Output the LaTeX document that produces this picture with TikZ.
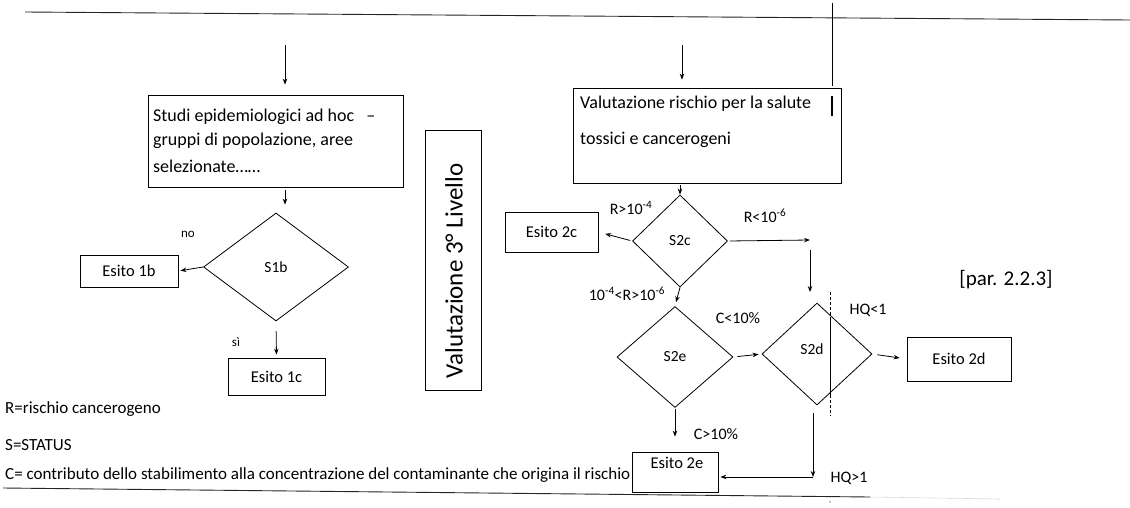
\documentclass[tikz,border=0pt]{standalone}
\usepackage{fontspec}
\setmainfont{Carlito}
\usetikzlibrary{shapes.geometric,arrows.meta}
\begin{document}
\begin{tikzpicture}[x=1pt,y=-1pt,
  box/.style={draw, line width=0.8pt, inner sep=0pt},
  esito/.style={box, font=\fontsize{16.5}{18}\selectfont},
  dec/.style={draw, diamond, line width=0.8pt, inner sep=0pt, font=\fontsize{15.5}{17}\selectfont},
  arr/.style={-{Stealth[length=6pt,width=4.5pt]}, line width=0.8pt},
  lbl/.style={font=\fontsize{16}{18}\selectfont, inner sep=0pt},
  small/.style={font=\fontsize{13}{15}\selectfont, inner sep=0pt},
  txt/.style={font=\fontsize{18}{20}\selectfont, inner sep=0pt, anchor=west},
  leg/.style={font=\fontsize{17}{19}\selectfont, inner sep=0pt, anchor=west},
  rule/.style={line width=0.9pt, black!85}
]
\useasboundingbox (0,0) rectangle (1130,507);

% frame rules
\coordinate (tl) at (25,12);
\coordinate (tr) at (1130,20);
\coordinate (bl) at (3,488);
\coordinate (bm) at (870,497);
\coordinate (br) at (1000,499);
\draw[rule] (tl) -- (tr);
\draw[rule] (bl) -- (bm);
\draw[line width=0.6pt, black!35, densely dotted] (bm) -- (br);

% left column
\coordinate (inL) at (285,45);
\node[box, minimum width=255, minimum height=92] (studi) at (275.5,141) {};
\node[txt] (studit) at (153,117) {Studi epidemiologici ad hoc \ \ –};
\node[txt] (studit2) at (153,141) {gruppi di popolazione, aree};
\node[txt] (studit3) at (153,166) {selezionate……};
\node[dec, minimum width=145, minimum height=108] (s1b) at (276,267) {S1b};
\node[esito, minimum width=98, minimum height=32] (e1b) at (129,271) {Esito 1b};
\node[esito, minimum width=97, minimum height=37] (e1c) at (276.5,376.5) {Esito 1c};

\draw[arr, shorten >=10pt] (inL) -- (inL |- studi.north);
\draw[arr, shorten <=3pt, shorten >=8pt] (studi.south -| inL) -- (inL |- s1b.north);
\draw[arr, shorten >=2pt] (s1b.west) -- (e1b.east);
\draw[arr, shorten <=10pt, shorten >=3pt] (s1b.south) -- (e1c.north);
\node[small] (no) at (188,234) {no};
\node[small] (si) at (236,342) {sì};

% vertical title
\node[box, minimum width=56, minimum height=260] (v3) at (453,260) {};
\node[font=\fontsize{25}{27}\selectfont, rotate=90, inner sep=0pt] (v3t) at (454,271) {Valutazione 3° Livello};

% legend
\node[leg] (legR) at (5,409) {R=rischio cancerogeno};
\node[leg] (legS) at (5,445) {S=STATUS};
\node[leg] (legC) at (5,475) {C= contributo dello stabilimento alla concentrazione del contaminante che origina il rischio};

% right column
\coordinate (inR) at (682,45);
\node[box, minimum width=268, minimum height=95] (valr) at (707,135.5) {};
\node[txt] (valrt) at (580,104) {Valutazione rischio per la salute};
\node[txt] (valrt2) at (580,140) {tossici e cancerogeni};
\coordinate (vtop) at (832,3);
\coordinate (vbot) at (832,86);
\draw[line width=0.7pt] (vtop) -- (vbot);
\coordinate (sg1) at (832,96);
\coordinate (sg2) at (832,116);
\draw[line width=1.6pt] (sg1) -- (sg2);

\node[dec, minimum width=95, minimum height=92] (s2c) at (680,241) {S2c};
\node[esito, minimum width=93, minimum height=40] (e2c) at (551.5,232) {Esito 2c};
\node[dec, minimum width=116, minimum height=101] (s2e) at (675,357) {S2e};
\node[dec, minimum width=110, minimum height=102] (s2d) at (817,354) {};
\node[font=\fontsize{15.5}{17}\selectfont, inner sep=0pt] (s2dt) at (812,349) {S2d};
\node[esito, minimum width=104, minimum height=44] (e2d) at (959,359) {Esito 2d};
\node[box, minimum width=86, minimum height=40] (e2e) at (675,472) {};
\node[font=\fontsize{16.5}{18}\selectfont, inner sep=0pt] (e2et) at (677,463) {Esito 2e};

\draw[arr, shorten >=8pt] (inR) -- (inR |- valr.north);
\draw[arr, shorten <=2pt] (valr.south -| s2c.north) -- (s2c.north);
\draw[arr, shorten <=2pt, shorten >=7pt] (s2c.west) -- (e2c.east);
\coordinate (r1) at (810,240);
\coordinate (r2) at (810,250);
\coordinate (r3) at (810,292);
\draw[arr, shorten <=2pt] (s2c.east) -- (r1);
\draw[arr] (r2) -- (r3);
\draw[arr, shorten >=4pt] (s2c.south) -- (s2e.north);
\draw[arr, shorten <=4pt, shorten >=3pt] (s2e.east) -- (s2d.west);
\draw[arr, shorten <=5pt, shorten >=7pt] (s2d.east) -- (e2d.west);
\draw[arr, shorten <=1pt, shorten >=15pt] (s2e.south) -- (e2e.north);
\coordinate (c1) at (813,413);
\coordinate (c2) at (813,477);
\draw[arr] (c1) -- (c2);
\draw[arr, shorten >=2pt] (c2) -- (c2 -| e2e.east);

% dashed guide through S2d
\coordinate (d1) at (830,292);
\coordinate (d2) at (830,318);
\coordinate (d3) at (830,395);
\coordinate (d4) at (830,416);
\draw[line width=0.6pt, densely dashed] (d1) -- (d2);
\draw[line width=0.7pt] (d2) -- (d3);
\draw[line width=0.6pt, densely dashed] (d3) -- (d4);
\fill (830,502) circle (0.6pt);

% labels
\node[lbl] (lR4) at (631,208) {R>10\textsuperscript{-4}};
\node[lbl] (lR6) at (765,216) {R<10\textsuperscript{-6}};
\node[lbl] (lmid) at (627,294) {10\textsuperscript{-4}<R>10\textsuperscript{-6}};
\node[lbl] (lC1) at (738,318) {C<10\%};
\node[lbl] (lC2) at (716,434) {C>10\%};
\node[lbl] (lH1) at (868,310) {HQ<1};
\node[lbl] (lH2) at (849,478) {HQ>1};
\node[font=\fontsize{21}{23}\selectfont, inner sep=0pt] (par) at (1006,280) {[par. 2.2.3]};
\end{tikzpicture}
\end{document}
